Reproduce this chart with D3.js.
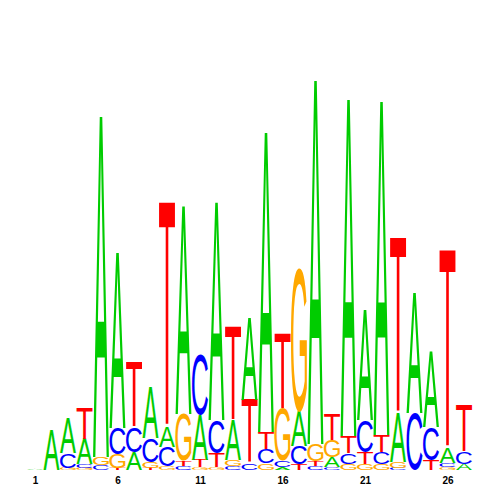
<!DOCTYPE html>
<html><head><meta charset="utf-8">
<script src="https://cdn.jsdelivr.net/npm/d3@7"></script>
<style>body{margin:0;background:#fff}</style>
</head><body>
<svg id="chart" width="500" height="500"></svg>
<script>
// Information content (bits) per position for each base
const positions = d3.range(1, 28);
const bases = ["A", "C", "G", "T"];
const valA = [0.005,0.200,0.175,0.125,1.705,0.880,0.090,0.255,0.100,1.040,0.225,1.090,0.200,0.410,1.500,0.015,0.170,1.820,0.050,1.685,0.550,1.670,0.245,0.600,0.375,0.075,0.030];
const valC = [0,0,0.075,0.020,0.025,0.130,0.125,0.120,0.095,0.020,0.300,0.165,0.020,0.035,0.070,0.030,0.090,0.020,0.015,0.055,0.160,0.060,0.010,0.285,0.165,0.020,0.060];
const valG = [0,0,0.010,0.010,0.040,0.070,0,0.030,0.020,0.235,0.015,0.015,0.030,0,0.035,0.260,0.720,0.085,0.085,0.030,0.030,0.030,0.030,0,0,0.015,0];
const valT = [0,0,0,0.155,0,0.010,0.325,0.010,1.125,0.025,0.035,0.070,0.470,0.315,0.085,0.375,0.030,0.025,0.130,0.085,0.060,0.085,0.875,0,0.050,0.990,0.235];
const tickPositions = [1, 6, 11, 16, 21, 26];
const colors = {A: "#00cc00", C: "#0000ff", G: "#ffa800", T: "#ff0000"};

const series = {A: valA, C: valC, G: valG, T: valT};
const svg = d3.select("#chart");
const x = d3.scaleLinear().domain([1, 27]).range([35, 464]);
const y = d3.scaleLinear().domain([0, 2]).range([470, 70]);
const letterW = 16;
const FONT = '"Liberation Sans", Arial, Helvetica, sans-serif';

// glyph tight bounds
const ctx = document.createElement("canvas").getContext("2d");
const FS = 100;
ctx.font = `normal ${FS}px ${FONT}`;
const glyph = {};
bases.forEach(b => {
  const m = ctx.measureText(b);
  glyph[b] = {l: m.actualBoundingBoxLeft, r: m.actualBoundingBoxRight, a: m.actualBoundingBoxAscent, d: m.actualBoundingBoxDescent};
});

const stacks = positions.map((p, i) => {
  const items = bases.map(b => ({base: b, v: series[b][i]})).filter(d => d.v > 0)
    .sort((a, b) => a.v - b.v);
  let cum = 0;
  items.forEach(d => { d.y0 = cum; cum += d.v; d.y1 = cum; d.pos = p; });
  return items;
});

const g = svg.append("g");
stacks.flat().forEach(d => {
  const gb = glyph[d.base];
  const gw = gb.l + gb.r, gh = gb.a + gb.d;
  const x0 = x(d.pos) - letterW / 2;
  const top = y(d.y1), bottom = y(d.y0);
  const h = bottom - top;
  g.append("text")
    .attr("x", 0).attr("y", 0)
    .attr("font-family", FONT)
    .attr("font-weight", "normal")
    .attr("font-size", FS)
    .attr("fill", colors[d.base])
    .attr("transform", `translate(${x0},${top}) scale(${letterW / gw},${h / gh}) translate(${gb.l},${gb.a})`)
    .text(d.base);
});

const axis = d3.axisBottom(x).tickValues(tickPositions).tickSize(0).tickFormat(d3.format("d"));
const ax = svg.append("g").attr("transform", "translate(0,474)").call(axis);
ax.select(".domain").remove();
ax.selectAll("text").attr("font-family", FONT)
  .attr("font-weight", "bold").attr("font-size", 10).attr("fill", "#000");
</script>
</body></html>
